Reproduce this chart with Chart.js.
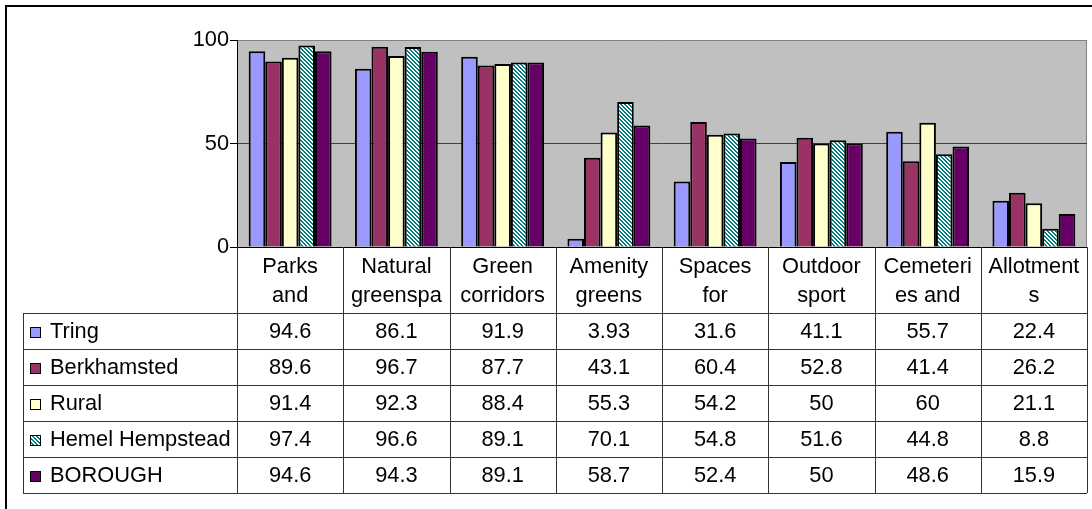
<!DOCTYPE html>
<html>
<head>
<meta charset="utf-8">
<script src="https://cdn.jsdelivr.net/npm/chart.js@4/dist/chart.umd.min.js"></script>
<style>
  html, body { margin: 0; padding: 0; background: #fff; }
  #wrap { width: 1092px; height: 509px; position: relative; }
</style>
</head>
<body>
<div id="wrap"><canvas id="c" width="1092" height="509"></canvas></div>
<script>
// Category labels, as the two visible lines of each wrapped cell
const categories = [
  ["Parks", "and"],
  ["Natural", "greenspa"],
  ["Green", "corridors"],
  ["Amenity", "greens"],
  ["Spaces", "for"],
  ["Outdoor", "sport"],
  ["Cemeteri", "es and"],
  ["Allotment", "s"]
];

const seriesNames = ["Tring", "Berkhamsted", "Rural", "Hemel Hempstead", "BOROUGH"];

const tring       = [94.6, 86.1, 91.9, 3.93, 31.6, 41.1, 55.7, 22.4];
const berkhamsted = [89.6, 96.7, 87.7, 43.1, 60.4, 52.8, 41.4, 26.2];
const rural       = [91.4, 92.3, 88.4, 55.3, 54.2, 50, 60, 21.1];
const hemel       = [97.4, 96.6, 89.1, 70.1, 54.8, 51.6, 44.8, 8.8];
const borough     = [94.6, 94.3, 89.1, 58.7, 52.4, 50, 48.6, 15.9];

const yTicks = [0, 50, 100];

const FONT = "'Liberation Sans', Arial, sans-serif";
const FSIZE = 21.8;

// Teal downward-diagonal hatch on white
function makeHatch() {
  const t = document.createElement('canvas');
  t.width = 4; t.height = 4;
  const g = t.getContext('2d');
  g.fillStyle = '#ffffff';
  g.fillRect(0, 0, 4, 4);
  g.fillStyle = '#008080';
  for (let y = 0; y < 4; y++) {
    for (let x = 0; x < 4; x++) {
      const d = ((x - y) % 4 + 4) % 4;
      if (d === 0 || d === 1) g.fillRect(x, y, 1, 1);
    }
  }
  return document.getElementById('c').getContext('2d').createPattern(t, 'repeat');
}
const hatch = makeHatch();

const fills = ['#9999FF', '#993366', '#FFFFCC', hatch, '#660066'];
const values = [tring, berkhamsted, rural, hemel, borough];

const datasets = seriesNames.map((name, i) => ({
  label: name,
  data: values[i],
  backgroundColor: fills[i],
  borderColor: '#000',
  borderWidth: 2,
  categoryPercentage: 0.78,
  barPercentage: 1.0
}));

// Background, plot fill, outer frame
const frame = {
  id: 'frame',
  beforeDraw(chart) {
    const { ctx, chartArea: a } = chart;
    ctx.save();
    ctx.fillStyle = '#fff';
    ctx.fillRect(0, 0, chart.width, chart.height);
    ctx.fillStyle = '#C0C0C0';
    ctx.fillRect(a.left, a.top, a.right - a.left, a.bottom - a.top);
    ctx.strokeStyle = '#808080';
    ctx.lineWidth = 1;
    ctx.beginPath();
    ctx.moveTo(a.right - 0.5, a.top);
    ctx.lineTo(a.right - 0.5, a.bottom);
    ctx.stroke();
    ctx.strokeStyle = '#000';
    ctx.lineWidth = 2;
    ctx.beginPath();
    ctx.moveTo(6, chart.height + 2);
    ctx.lineTo(6, 6);
    ctx.lineTo(chart.width + 2, 6);
    ctx.stroke();
    ctx.restore();
  }
};

// Data table below the axis: grid, legend keys, series names, values
const dataTable = {
  id: 'dataTable',
  afterDraw(chart) {
    const { ctx, chartArea: a } = chart;
    const xs = chart.scales.x;
    const n = categories.length;
    const colW = (a.right - a.left) / n;
    const headerBottom = 313;
    const rowH = 36;
    const tableLeft = 23;
    const tableBottom = headerBottom + rowH * seriesNames.length;

    ctx.save();
    ctx.strokeStyle = '#333';
    ctx.lineWidth = 1;

    // vertical separators
    for (let k = 0; k <= n; k++) {
      const x = Math.round(a.left + k * colW) + 0.5;
      ctx.beginPath();
      ctx.moveTo(x, a.bottom);
      ctx.lineTo(x, tableBottom);
      ctx.stroke();
    }
    // left edge of the legend column
    ctx.beginPath();
    ctx.moveTo(tableLeft + 0.5, headerBottom);
    ctx.lineTo(tableLeft + 0.5, tableBottom);
    ctx.stroke();
    // horizontal rules
    for (let r = 0; r <= seriesNames.length; r++) {
      const y = headerBottom + r * rowH + 0.5;
      ctx.beginPath();
      ctx.moveTo(tableLeft, y);
      ctx.lineTo(a.right, y);
      ctx.stroke();
    }

    ctx.font = FSIZE + 'px ' + FONT;
    ctx.textBaseline = 'middle';
    seriesNames.forEach((name, r) => {
      const cy = headerBottom + r * rowH + rowH / 2 + 1;
      // legend key
      const ky = Math.round(cy) - 5;
      ctx.fillStyle = fills[r];
      ctx.fillRect(30, ky, 10, 11);
      ctx.strokeStyle = '#000';
      ctx.strokeRect(30.5, ky + 0.5, 10, 10);
      ctx.fillStyle = '#000';
      ctx.textAlign = 'left';
      ctx.fillText(name, 50, cy);
      ctx.textAlign = 'center';
      values[r].forEach((v, i) => {
        ctx.fillText(String(v), xs.getPixelForTick(i), cy);
      });
    });
    ctx.restore();
  }
};

new Chart(document.getElementById('c'), {
  type: 'bar',
  data: { labels: categories, datasets },
  options: {
    responsive: false,
    animation: false,
    events: [],
    layout: { padding: { top: 40, right: 5, left: 0, bottom: 0 } },
    plugins: { legend: { display: false }, tooltip: { enabled: false } },
    scales: {
      x: {
        grid: { display: false, drawTicks: false },
        border: { color: '#000', width: 1 },
        ticks: {
          color: '#000',
          font: { family: FONT, size: FSIZE, lineHeight: 1.3 },
          padding: 6,
          maxRotation: 0,
          autoSkip: false
        },
        afterFit(s) { s.height = 262; }
      },
      y: {
        min: 0,
        max: 100,
        afterBuildTicks(s) { s.ticks = yTicks.map(v => ({ value: v })); },
        grid: {
          color: c => (c.tick && c.tick.value === 100 ? '#808080' : '#404040'),
          tickColor: '#000',
          tickLength: 7,
          lineWidth: 1
        },
        border: { color: '#000', width: 1 },
        ticks: {
          color: '#000',
          font: { family: FONT, size: FSIZE },
          padding: 1
        },
        afterFit(s) { s.width = 237; }
      }
    }
  },
  plugins: [frame, dataTable]
});
</script>
</body>
</html>
